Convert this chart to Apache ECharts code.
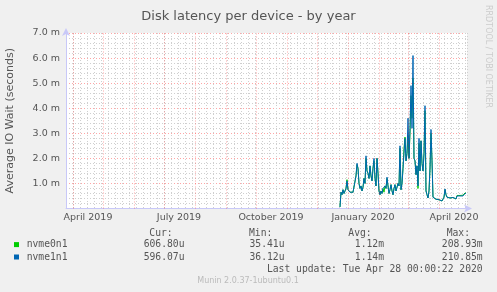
<!DOCTYPE html>
<html>
<head>
<meta charset="utf-8">
<script src="https://cdn.jsdelivr.net/npm/echarts@6/dist/echarts.min.js"></script>
<style>
  html, body { margin: 0; padding: 0; background: #f0f0f0; }
  #chart { width: 497px; height: 292px; }
</style>
</head>
<body>
<div id="chart"></div>
<script>
// time range of the year graph (day 0 = startDate)
const startDate = '2019-03-25';
const endDate = '2020-04-29';
const firstSample = '2019-12-24';

// daily averages in milliseconds, one per day from firstSample
const nvme0n1 = [
  0.06, 0.65, 0.55, 0.75, 0.6, 0.7, 0.8, 1.15, 0.75, 0.7,
  0.65, 0.62, 0.7, 0.65, 0.72, 0.7, 1.3, 1.75, 1.6, 1.0,
  0.8, 0.9, 0.7, 0.85, 1.2, 1.0, 2.0, 1.5, 1.4, 1.2,
  1.7, 1.3, 1.1, 1.6, 1.9, 1.2, 0.9, 2.0, 1.4, 0.7,
  0.55, 0.7, 0.6, 0.8, 0.65, 0.9, 0.8, 1.2, 0.9, 0.6,
  0.75, 0.95, 0.7, 0.55, 0.8, 0.95, 0.7, 0.75, 1.0, 0.9,
  2.4, 0.75, 1.0, 1.6, 2.4, 2.85, 1.9, 2.2, 2.9, 2.0,
  3.0, 4.5, 3.6, 5.2, 2.0, 1.9, 1.35, 1.7, 0.8, 2.6,
  1.5, 2.7, 1.8, 1.5, 2.2, 3.9, 0.7, 0.55, 0.42, 0.7,
  1.6, 3.0, 1.9, 0.45, 0.4, 0.38, 0.37, 0.36, 0.36, 0.35,
  0.34, 0.32, 0.3, 0.36, 0.45, 0.75, 0.55, 0.45, 0.45, 0.43,
  0.42, 0.45, 0.42, 0.44, 0.43, 0.45, 0.38, 0.52, 0.5, 0.48,
  0.52, 0.5, 0.48, 0.53, 0.54, 0.62, 0.61
];
const nvme1n1 = [
  0.06, 0.65, 0.55, 0.75, 0.6, 0.7, 0.8, 1.1, 0.75, 0.7,
  0.65, 0.62, 0.7, 0.65, 0.72, 0.7, 1.3, 1.8, 1.6, 1.0,
  0.8, 0.9, 0.7, 0.85, 1.2, 1.0, 2.1, 1.5, 1.4, 1.2,
  1.7, 1.3, 1.1, 1.6, 2.0, 1.2, 0.9, 2.0, 1.4, 0.7,
  0.55, 0.7, 0.6, 0.8, 0.75, 0.9, 0.8, 1.25, 0.9, 0.6,
  0.75, 0.95, 0.7, 0.55, 0.8, 0.95, 0.7, 0.75, 1.0, 0.9,
  2.5, 0.75, 1.0, 1.6, 2.2, 2.8, 1.9, 2.2, 3.6, 2.0,
  3.2, 4.9, 3.2, 6.1, 2.0, 1.9, 1.35, 1.7, 0.9, 2.8,
  1.5, 2.7, 1.8, 1.5, 2.2, 4.1, 0.7, 0.55, 0.42, 0.7,
  1.6, 3.15, 1.9, 0.45, 0.4, 0.38, 0.37, 0.36, 0.36, 0.35,
  0.34, 0.32, 0.3, 0.36, 0.45, 0.78, 0.55, 0.45, 0.45, 0.43,
  0.42, 0.45, 0.42, 0.44, 0.43, 0.45, 0.38, 0.5, 0.48, 0.46,
  0.5, 0.47, 0.45, 0.5, 0.52, 0.6, 0.6
];

// month boundaries (red grid) and quarter labels
const monthStarts = ['2019-04-01', '2019-05-01', '2019-06-01', '2019-07-01', '2019-08-01',
  '2019-09-01', '2019-10-01', '2019-11-01', '2019-12-01', '2020-01-01', '2020-02-01',
  '2020-03-01', '2020-04-01'];
const labelDates = ['2019-04-16', '2019-07-16', '2019-10-16', '2020-01-16', '2020-04-16'];
const labelTexts = ['April 2019', 'July 2019', 'October 2019', 'January 2020', 'April 2020'];

// legend table
const seriesNames = ['nvme0n1', 'nvme1n1'];
const seriesColors = ['#00cc00', '#0066b3'];
const curText = ['606.80u', '596.07u'];
const minText = ['35.41u', '36.12u'];
const avgText = ['1.12m', '1.14m'];
const maxText = ['208.93m', '210.85m'];
const lastUpdate = 'Last update: Tue Apr 28 00:00:22 2020';
const muninVersion = 'Munin 2.0.37-1ubuntu0.1';

function dayOf(s) {
  return (Date.parse(s) - Date.parse(startDate)) / 86400000;
}
const firstDay = dayOf(firstSample);
function toPairs(vals) {
  return vals.map((v, i) => [firstDay + i, v]);
}

const mono = '"DejaVu Sans Mono", monospace';
const sans = '"DejaVu Sans", sans-serif';
const textColor = '#555';

var graphic = [];
function txt(x, y, text, opts) {
  opts = opts || {};
  graphic.push({
    type: 'text', x: x, y: y, rotation: opts.rotation || 0, silent: true,
    style: {
      text: text, fill: opts.color || textColor,
      font: (opts.size || 9.7) + 'px ' + (opts.family || mono),
      textAlign: opts.align || 'left', textVerticalAlign: 'middle'
    }
  });
}

// header row
txt(149.3, 233.3, 'Cur:');
txt(249, 233.3, 'Min:');
txt(348.3, 233.3, 'Avg:');
txt(446.7, 233.3, 'Max:');
var rowY = [244.6, 257];
seriesNames.forEach(function (name, i) {
  graphic.push({
    type: 'rect', silent: true,
    shape: { x: 14, y: rowY[i] - 2.5, width: 5, height: 5 },
    style: { fill: seriesColors[i] }
  });
  txt(26.7, rowY[i], name);
  txt(184.5, rowY[i], curText[i], { align: 'right' });
  txt(284.5, rowY[i], minText[i], { align: 'right' });
  txt(384, rowY[i], avgText[i], { align: 'right' });
  txt(482.7, rowY[i], maxText[i], { align: 'right' });
});
txt(482.7, 269, lastUpdate, { align: 'right' });
txt(248, 281, muninVersion, { align: 'center', size: 8, family: sans, color: '#bbb' });
txt(488, 5, 'RRDTOOL / TOBI OETIKER', { rotation: -Math.PI / 2, size: 8, family: sans, color: '#ccc' });

var redGrid = { color: 'rgba(255,0,0,0.35)', width: 1, type: [1, 2] };
var grayGrid = { color: '#cfcfcf', width: 1, type: [1, 2] };
var axisBlue = '#c8c8f8';

var option = {
  animation: false,
  backgroundColor: '#f0f0f0',
  title: {
    text: 'Disk latency per device - by year',
    left: 'center', top: 5,
    textStyle: { fontFamily: sans, fontSize: 13, fontWeight: 'normal', color: textColor }
  },
  grid: {
    left: 66, right: 30, top: 33, bottom: 83.5,
    outerBoundsMode: 'none', containLabel: false,
    show: true, backgroundColor: '#ffffff', borderWidth: 0
  },
  xAxis: {
    type: 'value',
    min: 0, max: dayOf(endDate), interval: 7,
    axisLine: { show: true, lineStyle: { color: axisBlue }, symbol: ['none', 'arrow'], symbolSize: [6, 8], symbolOffset: [0, 5] },
    axisTick: { show: false },
    splitLine: { show: true, lineStyle: grayGrid },
    axisLabel: {
      customValues: labelDates.map(dayOf),
      formatter: function (v) {
        var i = labelDates.map(dayOf).indexOf(v);
        return i >= 0 ? labelTexts[i] : '';
      },
      margin: 4, color: textColor, fontFamily: sans, fontSize: 9.5
    }
  },
  yAxis: {
    type: 'value',
    min: 0, max: 7, interval: 1,
    name: 'Average IO Wait (seconds)',
    nameLocation: 'middle', nameGap: 50, nameRotate: 90,
    nameTextStyle: { color: textColor, fontFamily: sans, fontSize: 11 },
    axisLine: { show: true, lineStyle: { color: axisBlue }, symbol: ['none', 'arrow'], symbolSize: [6, 8], symbolOffset: [0, 5] },
    axisTick: { show: false },
    splitLine: { show: true, lineStyle: redGrid },
    minorTick: { show: false, splitNumber: 5 },
    minorSplitLine: { show: true, lineStyle: grayGrid },
    axisLabel: {
      formatter: function (v) { return v === 0 ? '' : v.toFixed(1) + ' m'; },
      margin: 6, color: textColor, fontFamily: sans, fontSize: 9.5
    }
  },
  series: [
    {
      name: 'month grid', type: 'line', data: [], silent: true,
      markLine: {
        silent: true, symbol: 'none', label: { show: false },
        lineStyle: redGrid,
        data: monthStarts.map(function (d) { return { xAxis: dayOf(d) }; })
      }
    },
    {
      name: seriesNames[0], type: 'line', data: toPairs(nvme0n1),
      showSymbol: false, lineStyle: { color: seriesColors[0], width: 1 }, itemStyle: { color: seriesColors[0] }
    },
    {
      name: seriesNames[1], type: 'line', data: toPairs(nvme1n1),
      showSymbol: false, lineStyle: { color: seriesColors[1], width: 1 }, itemStyle: { color: seriesColors[1] }
    }
  ],
  graphic: graphic
};

var myChart = echarts.init(document.getElementById('chart'));
myChart.setOption(option);
</script>
</body>
</html>
